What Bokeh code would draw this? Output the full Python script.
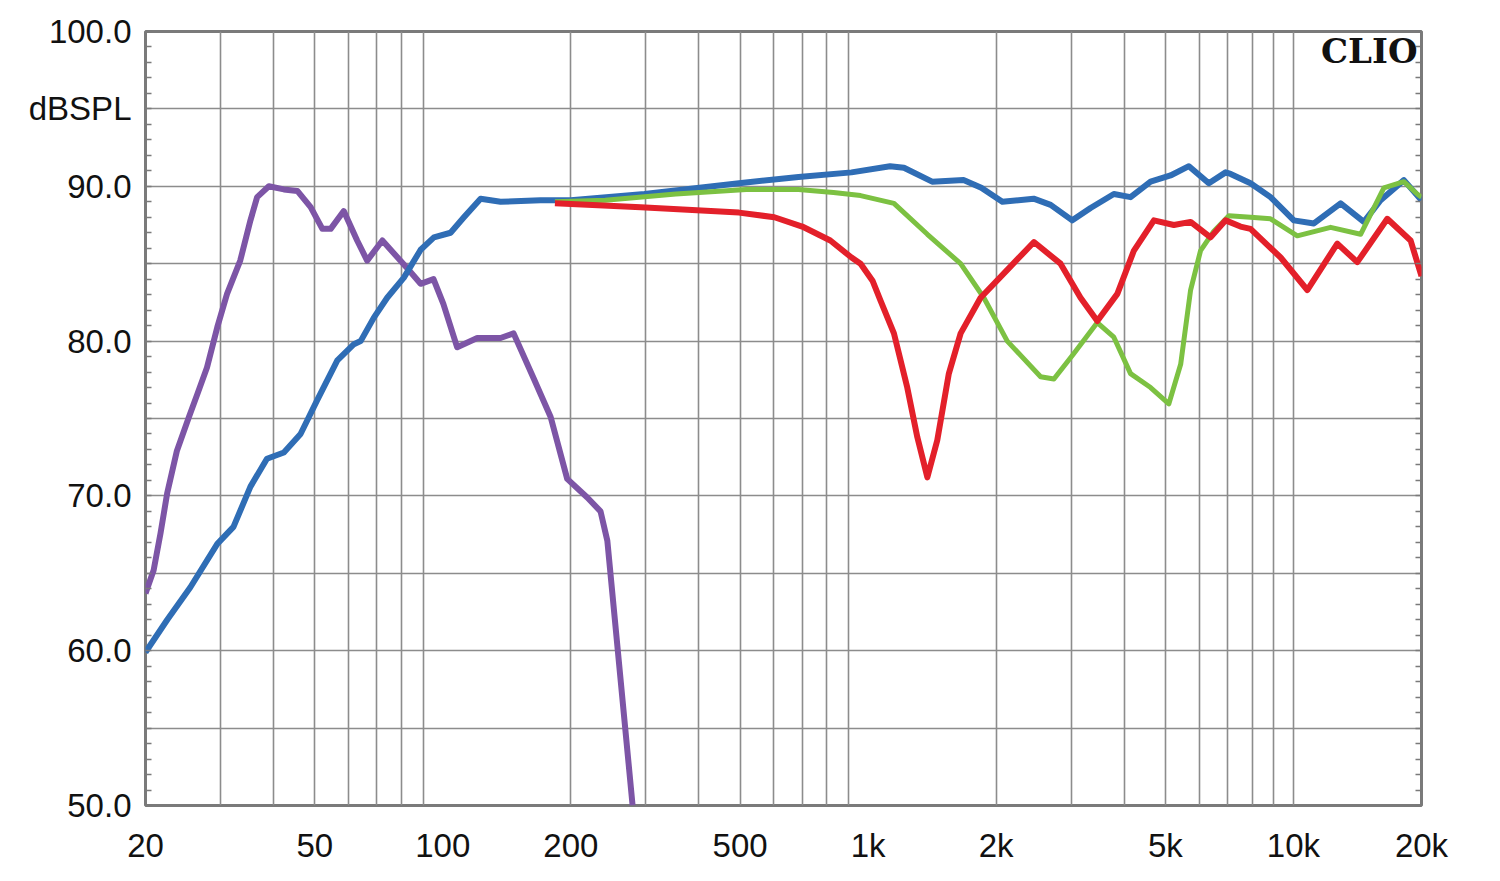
from bokeh.plotting import figure
from bokeh.models import FixedTicker, Label, LinearAxis, Range1d
from bokeh.embed import file_html
from bokeh.resources import INLINE

# ---- data ----
purple_f = [20, 20.9, 21.7, 22.5, 23.7, 25.3, 26.5, 27.9, 29.5, 31.1, 33.4, 35.3, 36.6, 39.0, 42.3,
            45.5, 48.9, 52.1, 54.5, 58.5, 62.9, 66.4, 72.1, 82.5, 88.7, 95.1, 100.3, 108.1, 120.5,
            136.7, 146.7, 163.5, 179.3, 196.1, 218.6, 234.9, 243.7, 279.4]
purple_db = [63.7, 65.2, 67.6, 70.2, 72.9, 75.1, 76.6, 78.3, 80.9, 83.05, 85.2, 87.8, 89.3, 90.0, 89.8,
             89.7, 88.65, 87.25, 87.25, 88.4, 86.5, 85.2, 86.5, 84.7, 83.7, 84.0, 82.4, 79.6, 80.2,
             80.2, 80.5, 77.6, 75.1, 71.1, 69.9, 69.0, 67.1, 50.0]

blue_f = [20, 22.5, 25.5, 29.5, 32.2, 35.3, 38.6, 42.3, 46.3, 50.7, 56.5, 61.8, 64.1, 68.8, 74.0,
          81.0, 88.7, 95.3, 104.3, 112.1, 122.7, 136.7, 169.7, 200, 298, 497, 686, 914, 1126, 1214,
          1414, 1676, 1845, 2068, 2450, 2686, 3020, 3334, 3782, 4140, 4614, 5140, 5678, 6325, 6926,
          7116, 7926, 8832, 10020, 11170, 12908, 14640, 16028, 18180, 20000]
blue_db = [59.9, 62.0, 64.1, 66.9, 68.0, 70.6, 72.4, 72.8, 74.0, 76.2, 78.75, 79.8, 80.0, 81.5, 82.8,
           84.1, 85.9, 86.7, 87.0, 88.0, 89.2, 89.0, 89.1, 89.1, 89.5, 90.2, 90.6, 90.9, 91.3, 91.2,
           90.3, 90.4, 89.9, 89.0, 89.2, 88.8, 87.8, 88.6, 89.5, 89.3, 90.3, 90.7, 91.3, 90.2, 90.9,
           90.8, 90.2, 89.3, 87.8, 87.6, 88.9, 87.7, 89.1, 90.4, 89.1]

red_f = [183.5, 292, 497, 602, 700, 815, 914, 960, 1024, 1070, 1150, 1236, 1305, 1378, 1454, 1548,
         1650, 1838, 2124, 2454, 2834, 3158, 3458, 3854, 4216, 4698, 5234, 5730, 6384, 6926, 7508,
         7926, 9330, 10778, 12678, 14126, 16620, 18852, 20000]
red_db = [88.9, 88.65, 88.3, 88.0, 87.4, 86.5, 85.4, 85.0, 83.9, 82.6, 80.5, 77.0, 73.8, 71.2, 73.6, 77.9,
          80.5, 82.8, 84.6, 86.4, 85.0, 82.8, 81.3, 83.05, 85.85, 87.8, 87.5, 87.7, 86.7, 87.8, 87.4,
          87.25, 85.4, 83.3, 86.3, 85.1, 87.9, 86.5, 84.2]

green_f = [183.5, 241, 353, 517, 686, 829, 960, 1150, 1378, 1650, 1871, 2124, 2544, 2734, 3046,
           3458, 3782, 4140, 4614, 5094, 5430, 5730, 6048, 6498, 7050, 7926, 8832, 10210, 12228,
           14384, 16314, 18180, 19540, 20000]
green_db = [89.0, 89.1, 89.5, 89.8, 89.8, 89.6, 89.4, 88.9, 86.9, 85.0, 82.8, 80.0, 77.7, 77.55, 79.2,
            81.2, 80.25, 77.9, 77.0, 75.95, 78.5, 83.3, 85.85, 87.1, 88.1, 88.0, 87.9, 86.8, 87.35,
            86.9, 89.9, 90.3, 89.5, 89.3]

x_ticks = [20, 50, 100, 200, 500, 1000, 2000, 5000, 10000, 20000]
x_tick_labels = ["20", "50", "100", "200", "500", "1k", "2k", "5k", "10k", "20k"]
y_ticks = [50, 60, 70, 80, 90, 95, 100]
y_tick_labels = ["50.0", "60.0", "70.0", "80.0", "90.0", "dBSPL", "100.0"]
x_grid = [m * d for d in (10, 100, 1000) for m in range(2, 10)] + [10000, 20000]
x_grid = [v for v in x_grid if v >= 20]
y_grid = list(range(50, 101, 5))
y_minor = list(range(50, 101))

# ---- figure ----
p = figure(width=1484, height=875, x_axis_type="log",
           x_range=Range1d(20, 20000), y_range=Range1d(50, 100),
           output_backend="svg", toolbar_location=None,
           min_border_left=145, min_border_top=31, min_border_right=63, min_border_bottom=70)
p.background_fill_color = "white"
p.border_fill_color = "white"
p.outline_line_color = "#7a7a7a"
p.outline_line_width = 3

grid_col = "#8c8c8c"
p.xgrid.ticker = FixedTicker(ticks=x_grid)
p.ygrid.ticker = FixedTicker(ticks=y_grid)
for g in (p.xgrid, p.ygrid):
    g.grid_line_color = grid_col
    g.grid_line_width = 1.6
    g.grid_line_alpha = 1.0

font = "Liberation Sans"

xa = p.xaxis[0]
xa.ticker = FixedTicker(ticks=x_ticks)
xa.major_label_overrides = {t: l for t, l in zip(x_ticks, x_tick_labels)}
xa.axis_line_color = None
xa.major_tick_in = 0
xa.major_tick_out = 0
xa.minor_tick_in = 0
xa.minor_tick_out = 0
xa.major_label_text_font = font
xa.major_label_text_font_size = "33px"
xa.major_label_text_color = "#111111"
xa.major_label_standoff = 21

ya = p.yaxis[0]
ya.ticker = FixedTicker(ticks=y_ticks, minor_ticks=y_minor)
ya.major_label_overrides = {t: l for t, l in zip(y_ticks, y_tick_labels)}
ya.axis_line_color = None
ya.major_tick_in = 0
ya.major_tick_out = 0
ya.minor_tick_in = 6
ya.minor_tick_out = 0
ya.minor_tick_line_color = "#7a7a7a"
ya.minor_tick_line_width = 1.5
ya.major_label_text_font = font
ya.major_label_text_font_size = "33px"
ya.major_label_text_color = "#111111"
ya.major_label_standoff = 14

ra = LinearAxis(ticker=FixedTicker(ticks=[], minor_ticks=y_minor))
ra.axis_line_color = None
ra.major_tick_in = 0
ra.major_tick_out = 0
ra.minor_tick_in = 6
ra.minor_tick_out = 0
ra.minor_tick_line_color = "#7a7a7a"
ra.minor_tick_line_width = 1.5
ra.major_label_text_color = None
p.add_layout(ra, "right")

# ---- curves ----
p.line(purple_f, purple_db, line_color="#7d55a6", line_width=6, line_join="round")
p.line(blue_f, blue_db, line_color="#2f6db5", line_width=6, line_join="round")
p.line(green_f, green_db, line_color="#7cc142", line_width=5, line_join="round")
p.line(red_f, red_db, line_color="#e3202a", line_width=6, line_join="round")

p.add_layout(Label(x=20000, y=100, x_offset=-4, y_offset=1, text="CLIO",
                   text_font="DejaVu Serif", text_font_style="bold", text_font_size="34px",
                   text_color="#111111", text_align="right", text_baseline="top"))

open("out.html", "w").write(file_html(p, INLINE))
